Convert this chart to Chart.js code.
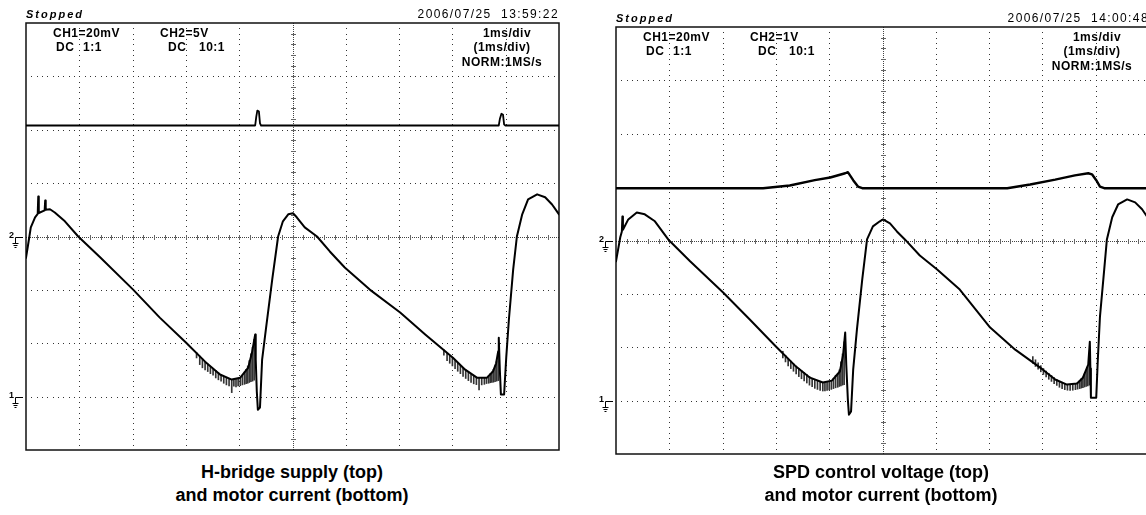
<!DOCTYPE html>
<html>
<head>
<meta charset="utf-8">
<script src="https://cdn.jsdelivr.net/npm/chart.js@4.4.1/dist/chart.umd.min.js"></script>
<style>
html, body { margin: 0; padding: 0; background: #fff; width: 1146px; height: 515px; overflow: hidden; }
.scope { position: absolute; width: 575px; height: 460px; }
.scope canvas { position: absolute; left: 0; top: 0; }
.t { position: absolute; font-family: "Liberation Sans", Arial, sans-serif; color: #000; white-space: pre; line-height: 1; }
.stopped { left: 26px; top: 8.5px; font-size: 11px; font-weight: bold; font-style: italic; letter-spacing: 2px; }
.date { right: 16px; top: 8px; font-size: 12px; letter-spacing: 1.4px; }
.lbl { font-size: 12px; font-weight: bold; letter-spacing: 0.5px; }
.ctr { width: 120px; text-align: center; }
.gnd { font-size: 9px; font-weight: bold; left: 9px; }
.caption { position: absolute; top: 461px; width: 420px; text-align: center; font-family: "Liberation Sans", Arial, sans-serif;
  font-weight: bold; font-size: 18px; line-height: 23px; color: #000; }
</style>
</head>
<body>

<div class="scope" id="scopeA" style="left:0; top:0;">
  <canvas id="chartA" width="575" height="460"></canvas>
  <div class="t stopped">Stopped</div>
  <div class="t date">2006/07/25  13:59:22</div>
  <div class="t lbl" style="left:53px; top:26.5px;">CH1=20mV</div>
  <div class="t lbl" style="left:160px; top:26.5px;">CH2=5V</div>
  <div class="t lbl" style="left:56px; top:40.5px;">DC</div>
  <div class="t lbl" style="left:83px; top:40.5px;">1:1</div>
  <div class="t lbl" style="left:168px; top:40.5px;">DC</div>
  <div class="t lbl" style="left:199px; top:40.5px;">10:1</div>
  <div class="t lbl ctr" style="left:447px; top:26.5px;">1ms/div</div>
  <div class="t lbl ctr" style="left:442px; top:40.5px;">(1ms/div)</div>
  <div class="t lbl ctr" style="left:442px; top:56px;">NORM:1MS/s</div>
  <div class="t gnd" style="top:231px;">2</div>
  <div class="t gnd" style="top:391px;">1</div>
</div>

<div class="scope" id="scopeB" style="left:590px; top:4px;">
  <canvas id="chartB" width="575" height="460"></canvas>
  <div class="t stopped">Stopped</div>
  <div class="t date">2006/07/25  14:00:48</div>
  <div class="t lbl" style="left:53px; top:26.5px;">CH1=20mV</div>
  <div class="t lbl" style="left:160px; top:26.5px;">CH2=1V</div>
  <div class="t lbl" style="left:56px; top:40.5px;">DC</div>
  <div class="t lbl" style="left:83px; top:40.5px;">1:1</div>
  <div class="t lbl" style="left:168px; top:40.5px;">DC</div>
  <div class="t lbl" style="left:199px; top:40.5px;">10:1</div>
  <div class="t lbl ctr" style="left:447px; top:26.5px;">1ms/div</div>
  <div class="t lbl ctr" style="left:442px; top:40.5px;">(1ms/div)</div>
  <div class="t lbl ctr" style="left:442px; top:56px;">NORM:1MS/s</div>
  <div class="t gnd" style="top:231px;">2</div>
  <div class="t gnd" style="top:391px;">1</div>
</div>

<div class="caption" style="left:82px;">H-bridge supply (top)<br>and motor current (bottom)</div>
<div class="caption" style="left:671px;">SPD control voltage (top)<br>and motor current (bottom)</div>

<script>
// time in ms (1 ms/div), CH1 motor current in mV (20 mV/div), CH2 in V

// left scope: H-bridge supply (CH2, 5 V/div)
const supplyA = [[0,10.4],[4.30,10.4],[4.32,11.2],[4.34,11.8],[4.37,11.7],[4.39,10.6],[4.41,10.4],
  [8.87,10.4],[8.89,11.0],[8.92,11.5],[8.95,11.4],[8.97,10.5],[8.99,10.4],[10,10.4]];

// left scope: motor current (CH1)
const currentA = [[0,52],[0.04,57],[0.09,63.4],[0.17,67.2],[0.22,68.5],[0.23,75],[0.24,68.8],[0.35,69.8],
  [0.36,73.5],[0.37,70],[0.45,70.2],[0.54,69],[0.73,65.7],[0.98,60],[1.39,52.2],[2.01,40.1],[2.51,29.6],
  [3.0,20.3],[3.36,13.1],[3.64,8.3],[3.86,6.4],[4.02,7.1],[4.17,10.9],[4.24,16.5],[4.30,23.3],[4.31,14],
  [4.33,2],[4.35,-4.9],[4.39,-4.1],[4.43,13.9],[4.50,25.1],[4.62,43.9],[4.73,60],[4.82,65.7],[4.92,68.3],
  [5.01,68.7],[5.08,67.2],[5.23,63.4],[5.46,60],[5.70,54.4],[5.98,48.4],[6.45,40.1],[7.02,31.5],[7.49,23.3],
  [8.01,14.6],[8.24,10.1],[8.46,7.1],[8.65,7.1],[8.76,9.4],[8.82,12.5],[8.86,17],[8.87,22.1],[8.89,10],
  [8.91,0.8],[8.97,0.8],[9.01,14.6],[9.06,28.9],[9.14,47.6],[9.21,60],[9.31,68.3],[9.42,73.9],[9.59,75.8],
  [9.74,74.7],[9.87,72],[10,68.3]];

// left scope: PWM ringing on the current trace [time, low, high]
const ringingA = [[3.20,14.5,16.5],[3.26,12.0,15.2],[3.31,10.8,14.1],[3.36,10.0,13.1],[3.41,9.4,12.2],
  [3.46,8.6,11.3],[3.51,8.0,10.6],[3.56,7.0,9.8],[3.61,6.3,9.0],[3.66,5.8,8.2],[3.71,5.0,7.6],[3.76,4.4,7.1],
  [3.81,4.0,6.8],[3.86,1.5,6.5],[3.90,3.9,6.5],[3.94,3.6,6.6],[3.98,4.0,6.8],[4.02,4.1,7.1],[4.06,4.4,8.0],
  [4.10,4.6,9.2],[4.13,4.9,10.2],[4.16,5.0,11.5],[4.19,5.3,13.5],[4.22,5.6,16.0],[4.25,5.8,18.5],[4.28,6.2,21.5],
  [7.84,15.5,17.5],[7.90,13.5,16.2],[7.95,12.5,15.3],[8.00,11.5,14.7],[8.05,10.5,13.6],[8.10,9.5,12.6],
  [8.15,8.6,11.7],[8.20,7.6,10.8],[8.25,6.8,10.0],[8.30,6.0,9.2],[8.35,5.3,8.5],[8.40,4.8,7.8],[8.45,4.5,7.2],
  [8.50,2.5,7.0],[8.55,4.4,7.0],[8.60,4.6,7.0],[8.64,4.9,7.2],[8.68,5.0,7.8],[8.71,5.2,8.6],[8.74,5.3,9.2],
  [8.77,5.4,10.2],[8.80,5.6,11.5],[8.83,5.8,13.2],[8.86,6.0,16.5]];

// right scope: SPD control voltage (CH2, 1 V/div)
const controlB = [[0,0.98],[2.76,0.98],[3.26,1.03],[3.73,1.13],[4.02,1.18],[4.30,1.26],[4.35,1.28],[4.45,1.13],
  [4.54,1.01],[4.62,0.98],[7.34,0.98],[7.77,1.05],[8.24,1.14],[8.61,1.22],[8.86,1.26],[8.93,1.24],[9.01,1.13],
  [9.08,1.01],[9.16,0.98],[10,0.98]];

// right scope: motor current (CH1)
const currentB = [[0,52.2],[0.04,56.7],[0.08,61.2],[0.11,63.4],[0.12,69],[0.13,64],[0.23,67.9],[0.39,70.5],
  [0.54,69.8],[0.73,67.2],[0.98,60.4],[1.39,52.2],[2.01,40.5],[2.51,30.4],[3.0,20.3],[3.36,13.1],[3.64,8.6],
  [3.88,6.8],[4.05,7.5],[4.20,10.9],[4.26,17],[4.30,25.5],[4.32,13.5],[4.35,0.4],[4.37,-5.3],[4.41,-4.1],
  [4.45,11.6],[4.52,26.6],[4.62,45.4],[4.71,60.4],[4.82,65.3],[4.95,67.2],[5.01,67.9],[5.14,66.4],[5.27,63.4],
  [5.42,60.4],[5.70,54.4],[6.02,49.2],[6.45,41.6],[7.02,27.4],[7.49,19.1],[8.01,11.6],[8.24,7.9],[8.46,6.0],
  [8.65,6.4],[8.76,8.6],[8.86,13.5],[8.89,22.1],[8.90,12],[8.91,1.1],[9.01,1.1],[9.04,15.4],[9.08,31.5],
  [9.16,49.2],[9.21,60.4],[9.31,68.7],[9.42,73.5],[9.59,75.4],[9.74,74.3],[9.87,71.7],[10,67.9]];

// right scope: PWM ringing [time, low, high]
const ringingB = [[3.13,16.0,18.5],[3.18,14.5,17.0],[3.23,13.0,15.8],[3.28,12.0,14.8],[3.33,11.0,13.8],
  [3.38,10.0,12.9],[3.43,9.0,12.0],[3.48,8.2,11.3],[3.53,7.4,10.5],[3.58,6.6,9.8],[3.63,5.8,9.0],[3.68,5.2,8.4],
  [3.73,4.6,7.8],[3.78,4.2,7.3],[3.83,3.8,7.0],[3.88,3.6,6.8],[3.92,3.6,6.8],[3.96,3.8,7.0],[4.00,4.0,7.2],
  [4.04,4.2,7.5],[4.08,4.5,8.4],[4.12,4.8,9.5],[4.16,5.0,10.2],[4.19,5.3,11.5],[4.22,5.5,14.5],[4.25,5.8,17.5],
  [4.28,6.0,22.0],
  [7.82,14.0,16.5],[7.87,12.8,15.3],[7.92,11.8,14.2],[7.97,10.8,13.1],[8.02,9.8,12.0],[8.07,8.9,11.1],
  [8.12,8.0,10.2],[8.17,7.2,9.4],[8.22,6.4,8.6],[8.27,5.7,7.9],[8.32,5.0,7.2],[8.37,4.5,6.7],[8.42,4.1,6.3],
  [8.47,3.9,6.0],[8.52,3.8,6.0],[8.57,3.9,6.1],[8.62,4.1,6.3],[8.66,4.3,6.8],[8.70,4.5,7.6],[8.73,4.7,8.2],
  [8.76,4.9,8.8],[8.79,5.1,10.0],[8.82,5.3,11.3],[8.85,5.5,12.8],[8.88,5.8,17.0]];

const timeRange = [0, 10];
const currentRange = [-20, 140];   // 8 div x 20 mV, ground 3 div below centre

// scope graticule: frame, dotted divisions, ticked centre lines, ground markers
const graticule = {
    id: 'graticule',
    beforeDatasetsDraw(chart) {
        const ctx = chart.ctx;
        const a = chart.chartArea;
        const dx = (a.right - a.left) / 10;
        const dy = (a.bottom - a.top) / 8;
        ctx.save();

        ctx.fillStyle = '#333';
        for (let i = 1; i < 10; i++) {
            if (i === 5) continue;
            const x = Math.round(a.left + i * dx);
            for (let k = 1; k < 80; k++) ctx.fillRect(x, Math.round(a.top + k * dy / 10), 1, 1);
        }
        for (let j = 1; j < 8; j++) {
            if (j === 4) continue;
            const y = Math.round(a.top + j * dy);
            for (let k = 1; k < 100; k++) ctx.fillRect(Math.round(a.left + k * dx / 10), y, 1, 1);
        }

        // centre lines with minor ticks
        const cx = Math.round(a.left + 5 * dx);
        const cy = Math.round(a.top + 4 * dy);
        ctx.fillStyle = '#444';
        for (let y = a.top; y < a.bottom; y += 2) ctx.fillRect(cx, Math.round(y), 1, 1);
        for (let x = a.left; x < a.right; x += 2) ctx.fillRect(Math.round(x), cy, 1, 1);
        ctx.fillStyle = '#666';
        for (let k = 1; k < 50; k++) ctx.fillRect(Math.round(a.left + k * dx / 5), cy - 2, 1, 5);
        for (let k = 1; k < 40; k++) ctx.fillRect(cx - 2, Math.round(a.top + k * dy / 5), 5, 1);

        // frame
        ctx.strokeStyle = '#111';
        ctx.lineWidth = 1.5;
        ctx.strokeRect(a.left, a.top, a.right - a.left, a.bottom - a.top);

        // ground markers for both channels
        ctx.strokeStyle = '#000';
        ctx.lineWidth = 1;
        ['yI', 'yV'].forEach(id => {
            const g = Math.round(chart.scales[id].getPixelForValue(0)) + 0.5;
            const x0 = a.left - 10.5;
            ctx.beginPath();
            ctx.moveTo(x0, g); ctx.lineTo(a.left - 3, g);
            ctx.moveTo(x0, g); ctx.lineTo(x0, g + 6);
            ctx.moveTo(x0 - 3, g + 6); ctx.lineTo(x0 + 3, g + 6);
            ctx.moveTo(x0 - 2, g + 8); ctx.lineTo(x0 + 2, g + 8);
            ctx.moveTo(x0 - 1, g + 10); ctx.lineTo(x0 + 1, g + 10);
            ctx.stroke();
        });
        ctx.restore();
    }
};

const toXY = rows => rows.map(r => ({ x: r[0], y: r[1] }));
const toBars = rows => rows.map(r => ({ x: r[0], y: [r[1], r[2]] }));

function makeScope(canvasId, topTrace, topWidth, current, ringing, voltsPerDiv) {
    return new Chart(document.getElementById(canvasId), {
        type: 'line',
        data: {
            datasets: [{
                data: toXY(topTrace),
                yAxisID: 'yV',
                borderColor: '#000',
                borderWidth: topWidth,
                order: 1
            }, {
                data: toXY(current),
                yAxisID: 'yI',
                borderColor: '#000',
                borderWidth: 2,
                order: 1
            }, {
                type: 'bar',
                data: toBars(ringing),
                yAxisID: 'yI',
                backgroundColor: '#333',
                borderWidth: 0,
                barThickness: 1,
                order: 2
            }]
        },
        options: {
            responsive: false,
            animation: false,
            devicePixelRatio: 1,
            events: [],
            layout: { padding: { left: 26, top: 23, right: 16, bottom: 10 } },
            elements: {
                point: { radius: 0 },
                line: { tension: 0, borderJoinStyle: 'round', borderCapStyle: 'round' }
            },
            plugins: { legend: { display: false }, tooltip: { enabled: false } },
            scales: {
                // the bar dataset would otherwise switch on category-style offset
                x: { type: 'linear', min: timeRange[0], max: timeRange[1], offset: false, display: false },
                yI: { type: 'linear', min: currentRange[0], max: currentRange[1], display: false },
                yV: { type: 'linear', min: -4 * voltsPerDiv, max: 4 * voltsPerDiv, display: false }
            }
        },
        plugins: [graticule]
    });
}

makeScope('chartA', supplyA, 1.8, currentA, ringingA, 5);
makeScope('chartB', controlB, 2.4, currentB, ringingB, 1);
</script>
</body>
</html>
